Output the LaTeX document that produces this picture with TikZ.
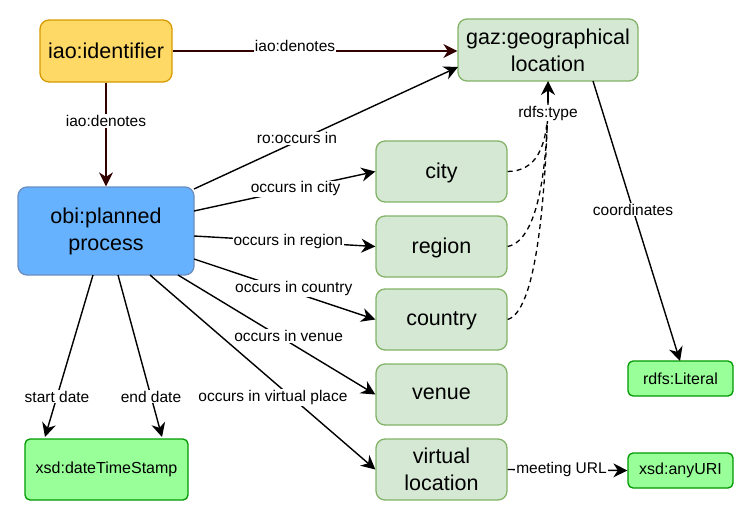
\documentclass[tikz,border=0pt]{standalone}
\usepackage{fontspec}
\setmainfont{Liberation Sans}
\usetikzlibrary{arrows.meta}
\definecolor{yfill}{HTML}{FFD966}
\definecolor{ydraw}{HTML}{D79B00}
\definecolor{bfill}{HTML}{66B2FF}
\definecolor{bdraw}{HTML}{6C8EBF}
\definecolor{gfill}{HTML}{D5E8D4}
\definecolor{gdraw}{HTML}{82B366}
\definecolor{lfill}{HTML}{99FF99}
\definecolor{ldraw}{HTML}{009900}
\definecolor{dred}{HTML}{330000}
\tikzset{
  big/.style={draw, line width=1.3pt, rounded corners=9pt, align=center,
    font=\fontsize{21.5}{27}\selectfont, inner sep=0pt},
  yel/.style={big, fill=yfill, draw=ydraw},
  blu/.style={big, fill=bfill, draw=bdraw},
  grn/.style={big, fill=gfill, draw=gdraw},
  lit/.style={draw=ldraw, fill=lfill, line width=1.3pt, rounded corners=5pt,
    font=\fontsize{16}{19}\selectfont, inner sep=0pt},
  conn/.style={line width=1.4pt, -{Stealth[length=14pt,width=14pt,inset=4.5pt]}},
  lab/.style={fill=white, inner sep=1pt, font=\fontsize{15.5}{18}\selectfont},
}
\begin{document}
\begin{tikzpicture}[x=1pt,y=-1pt]
\useasboundingbox (0,0) rectangle (747,522);
% nodes
\node[yel, minimum width=132pt, minimum height=62pt] (ident) at (106,51) {iao:identifier};
\node[blu, minimum width=176pt, minimum height=88pt] (proc) at (106,231) {obi:planned\\process};
\node[grn, minimum width=180pt, minimum height=62pt] (geo) at (548,50) {gaz:geographical\\location};
\node[grn, minimum width=131pt, minimum height=61pt, text depth=2pt] (city) at (441.5,171.5) {city};
\node[grn, minimum width=131pt, minimum height=61pt, text depth=2pt] (region) at (441.5,246.5) {region};
\node[grn, minimum width=131pt, minimum height=61pt, text depth=2pt] (country) at (441.5,319.5) {country};
\node[grn, minimum width=131pt, minimum height=61pt, text depth=2pt] (venue) at (441.5,394.5) {venue};
\node[grn, minimum width=131pt, minimum height=61pt] (virt) at (441.5,469.5) {virtual\\location};
\node[lit, minimum width=105pt, minimum height=35pt] (literal) at (680.5,378.5) {rdfs:Literal};
\node[lit, minimum width=105pt, minimum height=35pt] (uri) at (680.5,470.5) {xsd:anyURI};
\node[lit, minimum width=163pt, minimum height=61pt] (dts) at (106.5,469.5) {xsd:dateTimeStamp};
% coordinates for connector ends
\coordinate (pA) at (194,189);
\coordinate (pB) at (194,211);
\coordinate (pC) at (194,236);
\coordinate (pD) at (194,259);
\coordinate (pE) at (178,275);
\coordinate (pF) at (150,275);
\coordinate (pG) at (93,275);
\coordinate (pH) at (118,275);
\coordinate (gA) at (458,67);
\coordinate (gB) at (593,81);
\coordinate (gC) at (548,81);
\coordinate (dA) at (45,437);
\coordinate (dB) at (162,437);
\coordinate (lA) at (680,361);
\coordinate (tA) at (548,101);
% connectors
\draw[conn, draw=dred, fill=dred] (ident.east) -- node[lab, pos=0.43, yshift=5pt]{iao:denotes} (ident.east -| geo.west);
\draw[conn, draw=dred, fill=dred] (ident.south) -- node[lab, pos=0.37]{iao:denotes} (proc.north);
\draw[conn] (pA) -- node[lab, pos=0.39, yshift=3pt]{ro:occurs in} (gA);
\draw[conn] (pB) -- node[lab, pos=0.56]{occurs in city} (city.west);
\draw[conn] (pC) -- node[lab, pos=0.52]{occurs in region} (region.west);
\draw[conn] (pD) -- node[lab, pos=0.55, yshift=4pt]{occurs in country} (country.west);
\draw[conn] (pE) -- node[lab, pos=0.51, xshift=10pt]{occurs in venue} (venue.west);
\draw[conn] (pF) -- node[lab, pos=0.63, xshift=-19pt]{occurs in virtual place} (virt.west);
\draw[conn] (pG) -- node[lab, pos=0.75]{start date} (dA);
\draw[conn] (pH) -- node[lab, pos=0.75]{end date} (dB);
\draw[conn] (gB) -- node[lab, pos=0.46]{coordinates} (lA);
\draw[conn] (virt.east) -- node[lab, pos=0.45]{meeting URL} (uri.west);
% rdfs:type dashed curves
\draw[line width=1.3pt, dash pattern=on 5pt off 4pt] (city.east) .. controls (535,171) and (548,150) .. (tA);
\draw[line width=1.3pt, dash pattern=on 5pt off 4pt] (region.east) .. controls (540,240) and (547,160) .. (tA);
\draw[line width=1.3pt, dash pattern=on 5pt off 4pt] (country.east) .. controls (540,310) and (546,170) .. (tA);
\draw[conn] (tA) -- (gC);
\node[lab] (rt) at (548,113) {rdfs:type};
\end{tikzpicture}
\end{document}
